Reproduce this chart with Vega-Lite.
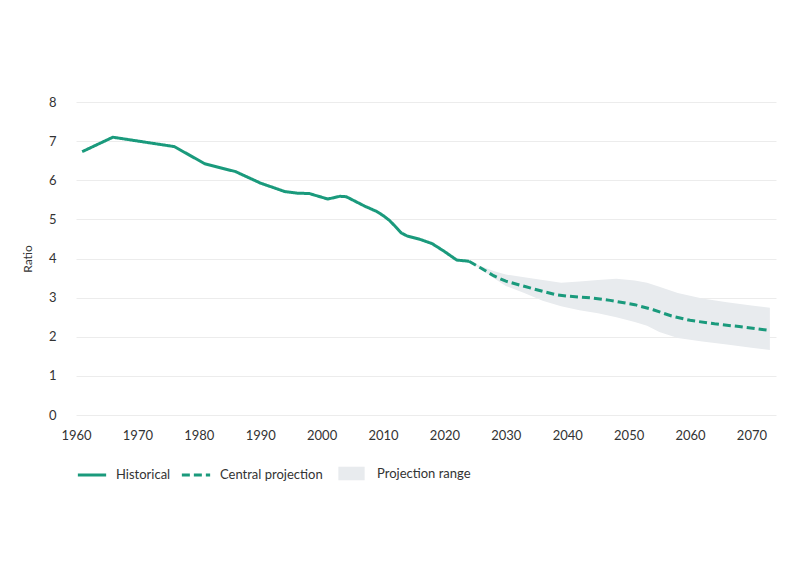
{
  "$schema": "https://vega.github.io/schema/vega-lite/v6.json",
  "autosize": {"type": "none"},
  "width": 700,
  "height": 313,
  "padding": {"left": 76, "top": 102, "right": 24, "bottom": 151},
  "background": "white",
  "config": {
    "font": "Lato",
    "view": {"stroke": null},
    "axis": {"labelColor": "#333333", "labelFontSize": 13, "titleColor": "#333333"},
    "legend": {"labelFontSize": 13, "labelColor": "#333333", "labelOffset": 8, "columnPadding": 4, "symbolSize": 800, "orient": "none", "direction": "horizontal", "title": null}
  },
  "datasets": {
    "band": [
      {"year": 2024, "lower": 3.93, "upper": 3.93, "series": "Projection range"},
      {"year": 2026, "lower": 3.72, "upper": 3.80, "series": "Projection range"},
      {"year": 2028, "lower": 3.50, "upper": 3.68, "series": "Projection range"},
      {"year": 2030, "lower": 3.30, "upper": 3.59, "series": "Projection range"},
      {"year": 2033, "lower": 3.12, "upper": 3.52, "series": "Projection range"},
      {"year": 2036, "lower": 2.92, "upper": 3.45, "series": "Projection range"},
      {"year": 2039, "lower": 2.78, "upper": 3.38, "series": "Projection range"},
      {"year": 2042, "lower": 2.68, "upper": 3.41, "series": "Projection range"},
      {"year": 2045, "lower": 2.60, "upper": 3.45, "series": "Projection range"},
      {"year": 2048, "lower": 2.50, "upper": 3.48, "series": "Projection range"},
      {"year": 2051, "lower": 2.38, "upper": 3.44, "series": "Projection range"},
      {"year": 2053, "lower": 2.28, "upper": 3.38, "series": "Projection range"},
      {"year": 2055, "lower": 2.12, "upper": 3.28, "series": "Projection range"},
      {"year": 2058, "lower": 1.97, "upper": 3.12, "series": "Projection range"},
      {"year": 2062, "lower": 1.88, "upper": 2.98, "series": "Projection range"},
      {"year": 2066, "lower": 1.80, "upper": 2.88, "series": "Projection range"},
      {"year": 2070, "lower": 1.72, "upper": 2.80, "series": "Projection range"},
      {"year": 2073, "lower": 1.66, "upper": 2.74, "series": "Projection range"}
    ],
    "lines": [
      {"year": 1961, "value": 6.73, "series": "Historical"},
      {"year": 1966, "value": 7.10, "series": "Historical"},
      {"year": 1971, "value": 6.98, "series": "Historical"},
      {"year": 1976, "value": 6.86, "series": "Historical"},
      {"year": 1981, "value": 6.42, "series": "Historical"},
      {"year": 1986, "value": 6.22, "series": "Historical"},
      {"year": 1990, "value": 5.93, "series": "Historical"},
      {"year": 1994, "value": 5.71, "series": "Historical"},
      {"year": 1996, "value": 5.67, "series": "Historical"},
      {"year": 1998, "value": 5.66, "series": "Historical"},
      {"year": 2001, "value": 5.52, "series": "Historical"},
      {"year": 2003, "value": 5.59, "series": "Historical"},
      {"year": 2004, "value": 5.58, "series": "Historical"},
      {"year": 2005, "value": 5.50, "series": "Historical"},
      {"year": 2007, "value": 5.34, "series": "Historical"},
      {"year": 2009, "value": 5.20, "series": "Historical"},
      {"year": 2010, "value": 5.10, "series": "Historical"},
      {"year": 2011, "value": 4.98, "series": "Historical"},
      {"year": 2012, "value": 4.82, "series": "Historical"},
      {"year": 2013, "value": 4.65, "series": "Historical"},
      {"year": 2014, "value": 4.57, "series": "Historical"},
      {"year": 2016, "value": 4.49, "series": "Historical"},
      {"year": 2018, "value": 4.38, "series": "Historical"},
      {"year": 2020, "value": 4.18, "series": "Historical"},
      {"year": 2022, "value": 3.96, "series": "Historical"},
      {"year": 2024, "value": 3.93, "series": "Historical"},
      {"year": 2024, "value": 3.93, "series": "Central projection"},
      {"year": 2026, "value": 3.75, "series": "Central projection"},
      {"year": 2028, "value": 3.56, "series": "Central projection"},
      {"year": 2030, "value": 3.42, "series": "Central projection"},
      {"year": 2033, "value": 3.29, "series": "Central projection"},
      {"year": 2036, "value": 3.16, "series": "Central projection"},
      {"year": 2038, "value": 3.08, "series": "Central projection"},
      {"year": 2040, "value": 3.04, "series": "Central projection"},
      {"year": 2044, "value": 2.99, "series": "Central projection"},
      {"year": 2047, "value": 2.93, "series": "Central projection"},
      {"year": 2051, "value": 2.82, "series": "Central projection"},
      {"year": 2054, "value": 2.69, "series": "Central projection"},
      {"year": 2057, "value": 2.53, "series": "Central projection"},
      {"year": 2060, "value": 2.42, "series": "Central projection"},
      {"year": 2064, "value": 2.33, "series": "Central projection"},
      {"year": 2068, "value": 2.26, "series": "Central projection"},
      {"year": 2073, "value": 2.16, "series": "Central projection"}
    ]
  },
  "encoding": {
    "x": {
      "field": "year",
      "type": "quantitative",
      "scale": {"domain": [1960, 2074], "nice": false, "zero": false},
      "axis": {
        "title": null,
        "values": [1960, 1970, 1980, 1990, 2000, 2010, 2020, 2030, 2040, 2050, 2060, 2070],
        "format": "d",
        "grid": false,
        "domain": false,
        "ticks": false,
        "labelFlush": false,
        "labelPadding": 14
      }
    }
  },
  "layer": [
    {
      "data": {"name": "band"},
      "mark": {"type": "area", "opacity": 1},
      "encoding": {
        "y": {
          "field": "lower",
          "type": "quantitative",
          "scale": {"domain": [0, 8], "nice": false},
          "axis": {
            "title": "Ratio",
            "titleFontWeight": "normal",
            "titleFontSize": 12,
            "titlePadding": 14,
            "values": [0, 1, 2, 3, 4, 5, 6, 7, 8],
            "domain": false,
            "ticks": false,
            "labelFlush": false,
            "labelOverlap": false,
            "labelPadding": 20,
            "gridColor": "#ececec"
          }
        },
        "y2": {"field": "upper"},
        "fill": {
          "field": "series",
          "type": "nominal",
          "scale": {"domain": ["Projection range"], "range": ["#e8ebee"]},
          "legend": {
            "orient": "none",
            "legendX": 261,
            "legendY": 357,
            "labelOffset": 11,
            "symbolType": "M-0.93,-0.48H0.93V0.48H-0.93Z",
            "symbolOpacity": 1,
            "symbolStrokeWidth": 0
          }
        }
      }
    },
    {
      "data": {"name": "lines"},
      "mark": {"type": "line", "strokeWidth": 3, "strokeCap": "butt"},
      "encoding": {
        "y": {
          "field": "value",
          "type": "quantitative",
          "axis": {
            "title": "Ratio",
            "titleFontWeight": "normal",
            "titleFontSize": 12,
            "titlePadding": 14,
            "values": [0, 1, 2, 3, 4, 5, 6, 7, 8],
            "domain": false,
            "ticks": false,
            "labelFlush": false,
            "labelOverlap": false,
            "labelPadding": 20,
            "gridColor": "#ececec"
          }
        },
        "color": {
          "field": "series",
          "type": "nominal",
          "scale": {"domain": ["Historical", "Central projection"], "range": ["#1a9a7c", "#1a9a7c"]},
          "legend": {
            "orient": "none",
            "legendX": 0,
            "legendY": 357,
            "symbolType": "stroke",
            "symbolStrokeWidth": 3
          }
        },
        "strokeDash": {
          "field": "series",
          "type": "nominal",
          "scale": {"domain": ["Historical", "Central projection"], "range": [[1, 0], [8, 4]]},
          "legend": {
            "orient": "none",
            "legendX": 0,
            "legendY": 357,
            "symbolType": "stroke",
            "symbolStrokeWidth": 3
          }
        }
      }
    }
  ]
}
